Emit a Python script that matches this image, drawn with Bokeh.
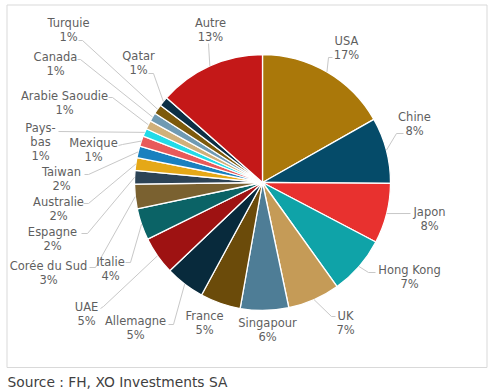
import numpy as np
from bokeh.plotting import figure
from bokeh.models import Range1d, ColumnDataSource
from bokeh.embed import file_html
from bokeh.resources import INLINE
from bokeh.core.properties import value

# ---------------- data ----------------
countries = ["USA", "Chine", "Japon", "Hong Kong", "UK", "Singapour", "France",
             "Allemagne", "UAE", "Italie", "Corée du Sud", "Espagne", "Australie",
             "Taiwan", "Mexique", "Pays-bas", "Arabie Saoudie", "Canada", "Turquie",
             "Qatar", "Autre"]
shares = [16.8, 8.3, 7.6, 7.4, 6.6, 6.1, 5.1, 5.0, 4.8, 4.0, 3.1, 1.7, 1.6,
          1.5, 1.3, 1.0, 1.1, 1.1, 1.2, 1.2, 13.5]
pct_labels = ["17%", "8%", "8%", "7%", "7%", "6%", "5%", "5%", "5%", "4%", "3%",
              "2%", "2%", "2%", "1%", "1%", "1%", "1%", "1%", "1%", "13%"]
colors = ["#aa780a", "#054b69", "#e8312f", "#0fa3a8", "#c59b57", "#4e7d96",
          "#6b4b0a", "#082a3c", "#9e1212", "#0b6366", "#7a6130", "#2c4356",
          "#e5a817", "#1980bf", "#e85a5a", "#22dbe8", "#d0b07a", "#6f9ab3",
          "#7d5a0c", "#0c2f45", "#c41818"]
source_text = "Source : FH, XO Investments SA"

# ---------------- layout (page pixel coordinates) ----------------
CX, CY, R = 262, 182, 128
# name lines, label centre x, first line y, leader points (from label side)
label_layout = {
    "USA": (["USA"], 346, 40, [(328, 57), (332, 57)]),
    "Chine": (["Chine"], 414, 116, [(396, 133), (403, 133)]),
    "Japon": (["Japon"], 429, 211, [(410, 213)]),
    "Hong Kong": (["Hong Kong"], 409, 269, [(368, 272), (375, 272)]),
    "UK": (["UK"], 345, 315, [(331, 316), (335, 316)]),
    "Singapour": (["Singapour"], 267, 322, []),
    "France": (["France"], 204, 315, []),
    "Allemagne": (["Allemagne"], 135, 320, [(173, 324), (168, 324)]),
    "UAE": (["UAE"], 86, 306, [(103, 306), (100, 308)]),
    "Italie": (["Italie"], 110, 261, [(130, 262), (125, 262)]),
    "Corée du Sud": (["Corée du Sud"], 48, 265, [(95, 267), (89, 267)]),
    "Espagne": (["Espagne"], 52, 231, [(87, 233), (81, 233)]),
    "Australie": (["Australie"], 58, 201, [(88, 203), (83, 203)]),
    "Taiwan": (["Taiwan"], 61, 171, [(88, 174), (84, 174)]),
    "Mexique": (["Mexique"], 93, 142, [(122, 144), (118, 145)]),
    "Pays-bas": (["Pays-", "bas"], 40, 127, [(58, 131)]),
    "Arabie Saoudie": (["Arabie Saoudie"], 64, 95, [(112, 97), (108, 97)]),
    "Canada": (["Canada"], 55, 56, [(80, 59), (77, 59)]),
    "Turquie": (["Turquie"], 68, 22, [(82, 40), (78, 40)]),
    "Qatar": (["Qatar"], 138, 55, [(153, 73), (148, 73)]),
    "Autre": (["Autre"], 210, 22, [(208, 43)]),
}

W, H = 490, 390
p = figure(width=W, height=H, output_backend="svg", toolbar_location=None,
           x_range=Range1d(0, W), y_range=Range1d(-H, 0),
           min_border=0)
p.axis.visible = False
p.xgrid.visible = False
p.ygrid.visible = False
p.outline_line_color = None
p.background_fill_color = "white"
p.border_fill_color = "white"

# frame border
p.quad(left=[6.5], right=[486.5], top=[-4.5], bottom=[-367],
       fill_color=None, line_color="#d9d9d9", line_width=1)

vals = np.array(shares, dtype=float)
frac = vals / vals.sum()
c1 = np.cumsum(frac)
c0 = c1 - frac
start = np.pi / 2 - 2 * np.pi * c0
end = np.pi / 2 - 2 * np.pi * c1
mid = (c0 + c1) / 2 * 2 * np.pi  # clockwise from top

src = ColumnDataSource(dict(country=countries, start=start, end=end, color=colors))
p.wedge(x=CX, y=-CY, radius=R, start_angle="start", end_angle="end",
        direction="clock", fill_color="color", line_color="white",
        line_width=1.3, source=src)

# leader lines
xs, ys = [], []
for i, name in enumerate(countries):
    lines, lx, ly, pts = label_layout[name]
    if not pts:
        continue
    sx = CX + R * np.sin(mid[i])
    sy = CY - R * np.cos(mid[i])
    px = [sx] + [q[0] for q in pts]
    py = [sy] + [q[1] for q in pts]
    xs.append(px)
    ys.append([-v for v in py])
p.multi_line(xs=xs, ys=ys, line_color="#c8c8c8", line_width=1)

# labels
tx, ty, tt = [], [], []
for i, name in enumerate(countries):
    lines, lx, ly, pts = label_layout[name]
    for k, ln in enumerate(lines):
        tx.append(lx); ty.append(-(ly + 14 * k)); tt.append(ln)
    tx.append(lx); ty.append(-(ly + 14 * len(lines))); tt.append(pct_labels[i])
p.text(x=tx, y=ty, text=tt, text_align="center", text_baseline="middle",
       text_font=value("DejaVu Sans"), text_font_size="11.5px",
       text_color="#5f5f5f")

p.text(x=[7], y=[-381], text=[source_text], text_align="left",
       text_baseline="middle", text_font=value("DejaVu Sans"),
       text_font_size="13.8px", text_color="#404040")

open("out.html", "w").write(file_html(p, INLINE))
